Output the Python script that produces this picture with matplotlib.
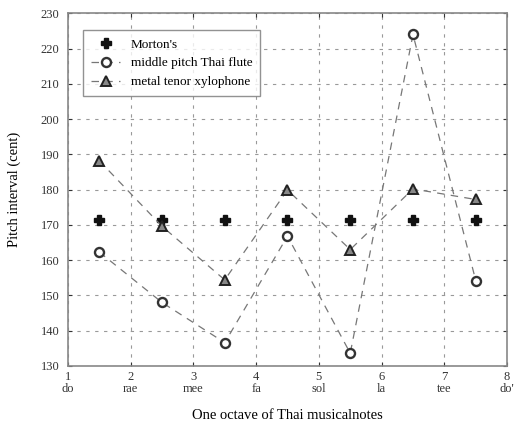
import numpy as np
import matplotlib.pyplot as plt

plt.rcParams['font.family'] = ['Liberation Serif', 'DejaVu Serif']

# note positions (between scale degrees) and measured intervals in cents
note_pos = [1.5, 2.5, 3.5, 4.5, 5.5, 6.5, 7.5]
mortons = [171.4, 171.4, 171.4, 171.4, 171.4, 171.4, 171.4]
thai_flute = [162.3, 148.0, 136.6, 166.8, 133.6, 224.0, 154.2]
xylophone = [188.2, 169.6, 154.4, 179.9, 163.0, 180.2, 177.2]

tick_nums = [1, 2, 3, 4, 5, 6, 7, 8]
tick_names = ['do', 'rae', 'mee', 'fa', 'sol', 'la', 'tee', "do'"]

fig = plt.figure(figsize=(5.18, 4.29), dpi=100)
ax = fig.add_axes([0.131, 0.147, 0.848, 0.822])

ax.plot(note_pos, mortons, ls='none', marker='P', ms=7, color='#111111',
        label="Morton's")
ax.plot(note_pos, thai_flute, ls=(0, (6, 5)), lw=0.9, color='#777777',
        marker='o', ms=6.5, mfc='white', mec='#333333', mew=1.7,
        label='middle pitch Thai flute')
ax.plot(note_pos, xylophone, ls=(0, (6, 5)), lw=0.9, color='#777777',
        marker='^', ms=7, mfc='#888888', mec='#222222', mew=1.4,
        label='metal tenor xylophone')

ax.set_xlim(1, 8)
ax.set_ylim(130, 230)
ax.set_yticks(np.arange(130, 231, 10))
ax.set_xticks(tick_nums)
ax.set_xticklabels([f'{n}\n{s}' for n, s in zip(tick_nums, tick_names)],
                   linespacing=1.0)
ax.tick_params(labelsize=9, colors='#333333', length=3, direction='in',
               top=True, right=True)
ax.tick_params(axis='y', pad=6)
ax.grid(True, ls=(0, (3, 5)), lw=0.8, color='#999999')
for s in ax.spines.values():
    s.set_color('#888888')
    s.set_linewidth(1.2)

ax.set_ylabel('Pitch interval (cent)', fontsize=10.5, labelpad=14)
ax.set_xlabel('One octave of Thai musicalnotes', fontsize=10.5, labelpad=10)

leg = ax.legend(loc='upper left', fontsize=9.5, frameon=True, fancybox=False,
                borderpad=0.6, handlelength=2.2, labelspacing=0.5,
                bbox_to_anchor=(0.02, 0.97))
leg.get_frame().set_edgecolor('#777777')
leg.get_frame().set_linewidth(1.0)

fig.savefig('out.png', dpi=100)
